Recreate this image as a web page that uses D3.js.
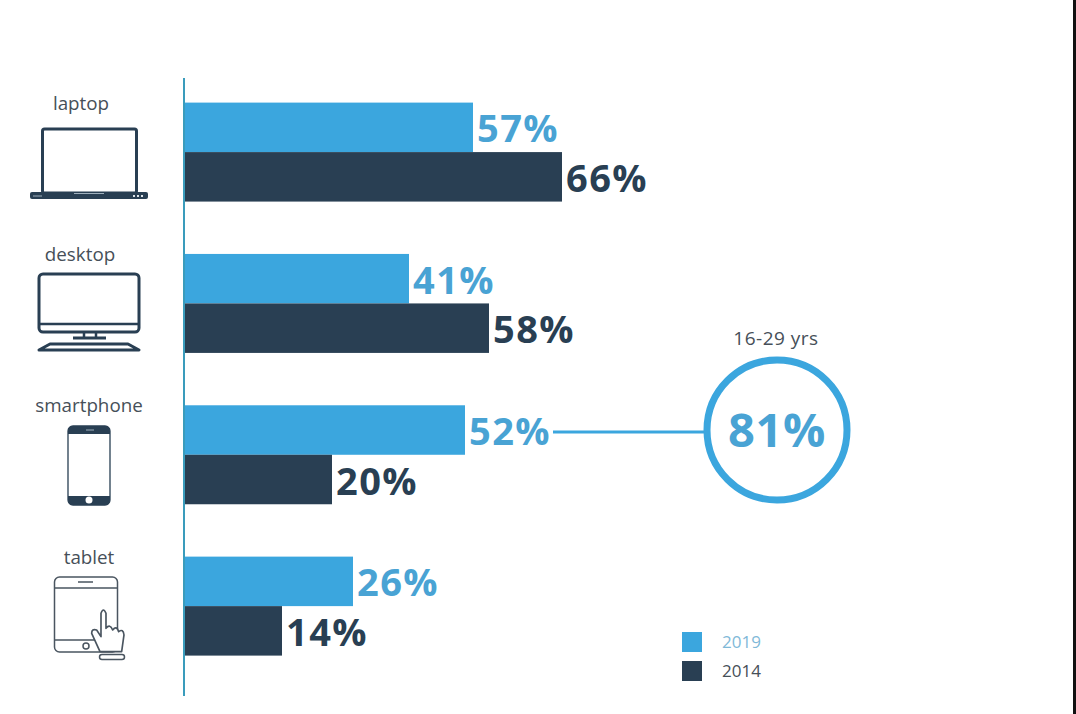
<!DOCTYPE html>
<html>
<head>
<meta charset="utf-8">
<script src="https://cdn.jsdelivr.net/npm/d3@7"></script>
<style>
  html, body { margin: 0; background: #fff; }
  text { font-family: "Open Sans", sans-serif; }
</style>
</head>
<body>
<div id="graph"></div>
<script>
let categories = ["laptop", "desktop", "smartphone", "tablet"];
let years = ["2019", "2014"];
let values2019 = [57, 41, 52, 26];
let values2014 = [66, 58, 20, 14];
let calloutCategory = "smartphone";
let calloutLabel = "16-29 yrs";
let calloutValue = 81;

// bars in the original are not proportional to their labels,
// so the scale has one stop per printed value
let stops = [0, 14, 20, 26, 41, 52, 57, 58, 66];
let stopLengths = [0, 98, 148, 169, 225, 281, 289, 305, 378];

let blue = "#3ba6de", dark = "#293f53", labelBlue = "#49a3d4", textGrey = "#464f58";
let colour = d3.scaleOrdinal().domain(years).range([blue, dark]);
let labelColour = d3.scaleOrdinal().domain(years).range([labelBlue, dark]);
let legendColour = d3.scaleOrdinal().domain(years).range(["#7fb9d8", textGrey]);

let width = 1076, height = 714;
let left = 184;

let svg = d3.select("#graph").append("svg")
  .attr("width", width)
  .attr("height", height)
  .style("display", "block");

// black edge of the screenshot
svg.append("rect").attr("x", 1073).attr("y", 0).attr("width", 3).attr("height", height).attr("fill", "#111");

let x = d3.scaleLinear().domain(stops).range(stopLengths.map(d => left + d));
let y = d3.scaleBand().domain(categories).range([102.6, 655.6]).paddingInner(0.346);
let y1 = d3.scaleBand().domain(years).range([0, y.bandwidth()]);

let rows = categories.map((c, i) => ({
  category: c,
  series: [
    {year: years[0], value: values2019[i]},
    {year: years[1], value: values2014[i]}
  ]
}));

let row = svg.selectAll("g.row").data(rows).enter().append("g")
  .attr("class", "row")
  .attr("transform", d => "translate(0," + y(d.category) + ")");

row.selectAll("rect").data(d => d.series).enter().append("rect")
  .attr("x", x(0))
  .attr("y", d => y1(d.year))
  .attr("width", d => x(d.value) - x(0))
  .attr("height", y1.bandwidth())
  .attr("fill", d => colour(d.year));

row.selectAll("text").data(d => d.series).enter().append("text")
  .attr("x", d => x(d.value) + 4)
  .attr("y", d => y1(d.year) + y1.bandwidth() / 2 + 15)
  .attr("font-size", 38)
  .attr("font-weight", 700)
  .attr("letter-spacing", 1.4)
  .attr("fill", d => labelColour(d.year))
  .text(d => d.value + "%");

// axis line
svg.append("line")
  .attr("x1", left).attr("x2", left)
  .attr("y1", 78).attr("y2", 696)
  .attr("stroke", "#3a9cbc").attr("stroke-width", 2);

// category names
let nameX = {laptop: 81, desktop: 80, smartphone: 89, tablet: 89};
svg.selectAll("text.name").data(categories).enter().append("text")
  .attr("class", "name")
  .attr("x", d => nameX[d])
  .attr("y", d => y(d) + 7)
  .attr("text-anchor", "middle")
  .attr("font-size", 18.8)
  .attr("fill", textGrey)
  .text(d => d);

// icons
let icon = () => svg.append("g").attr("fill", "none").attr("stroke", dark).attr("stroke-linejoin", "round");

let laptop = icon();
laptop.append("rect").attr("x", 42.5).attr("y", 129).attr("width", 94).attr("height", 64).attr("rx", 2).attr("stroke-width", 3);
laptop.append("rect").attr("x", 30).attr("y", 192).attr("width", 118).attr("height", 7).attr("rx", 2).attr("fill", dark).attr("stroke", "none");
laptop.append("line").attr("x1", 74).attr("x2", 104).attr("y1", 193.5).attr("y2", 193.5).attr("stroke", "#9fb0bd").attr("stroke-width", 1);
laptop.append("line").attr("x1", 33).attr("x2", 42).attr("y1", 196).attr("y2", 196).attr("stroke", "#9fb0bd").attr("stroke-width", 1);
laptop.append("line").attr("x1", 133).attr("x2", 144).attr("y1", 196).attr("y2", 196).attr("stroke", "#dfe5ea").attr("stroke-width", 2).attr("stroke-dasharray", "2 2");

let desktop = icon();
desktop.append("rect").attr("x", 39).attr("y", 274).attr("width", 100).attr("height", 58).attr("rx", 4).attr("stroke-width", 3);
desktop.append("line").attr("x1", 39).attr("x2", 139).attr("y1", 324).attr("y2", 324).attr("stroke-width", 2.5);
desktop.append("path").attr("d", "M84 332V337M96 332V337").attr("stroke-width", 2.5);
desktop.append("line").attr("x1", 73).attr("x2", 106).attr("y1", 338).attr("y2", 338).attr("stroke-width", 3);
desktop.append("path").attr("d", "M39 350L50 344H128L139 350Z").attr("stroke-width", 3);

let phone = icon();
phone.append("rect").attr("x", 68).attr("y", 426).attr("width", 42).attr("height", 79).attr("rx", 5).attr("stroke-width", 1.3);
phone.append("path").attr("d", "M68 434V431Q68 426 73 426H105Q110 426 110 431V434Z").attr("fill", dark).attr("stroke", "none");
phone.append("path").attr("d", "M68 496V500Q68 505 73 505H105Q110 505 110 500V496Z").attr("fill", dark).attr("stroke", "none");
phone.append("circle").attr("cx", 89).attr("cy", 500).attr("r", 3.5).attr("fill", "#fff").attr("stroke", "none");
phone.append("line").attr("x1", 86).attr("x2", 94).attr("y1", 430).attr("y2", 430).attr("stroke", "#9fb0bd").attr("stroke-width", 1);

let tablet = icon().attr("stroke", "#4a5560");
tablet.append("rect").attr("x", 54.5).attr("y", 577).attr("width", 63).attr("height", 75).attr("rx", 5).attr("stroke-width", 1.5);
tablet.append("path").attr("d", "M55 588H117M55 640H117M78 582H93").attr("stroke-width", 1.5);
tablet.append("circle").attr("cx", 86).attr("cy", 646).attr("r", 3).attr("stroke-width", 1.5);
// hand, traced in the crop's coordinates
tablet.append("g")
  .attr("transform", "translate(20,380) scale(0.3333)")
  .append("path")
  .attr("d", "M240 815L215 760Q215 745 230 750L243 770V700Q250 680 258 700V745Q270 730 278 750Q290 735 296 755Q310 745 312 765L305 815Z")
  .attr("fill", "#fff")
  .attr("stroke-width", 5);
tablet.append("rect").attr("x", 99.5).attr("y", 654.5).attr("width", 25).attr("height", 5).attr("rx", 2.5).attr("fill", "#fff").attr("stroke-width", 1.5);

// callout
let calloutY = y(calloutCategory) + y1("2019") + y1.bandwidth() / 2 + 2;
svg.append("line")
  .attr("x1", x(values2019[categories.indexOf(calloutCategory)]) + 88)
  .attr("x2", 705)
  .attr("y1", calloutY).attr("y2", calloutY)
  .attr("stroke", blue).attr("stroke-width", 3);
svg.append("circle")
  .attr("cx", 777).attr("cy", 430).attr("r", 70)
  .attr("fill", "#fff")
  .attr("stroke", blue).attr("stroke-width", 7);
svg.append("text")
  .attr("x", 777).attr("y", 447)
  .attr("text-anchor", "middle")
  .attr("font-size", 47)
  .attr("font-weight", 700)
  .attr("letter-spacing", 0.6)
  .attr("fill", labelBlue)
  .text(calloutValue + "%");
svg.append("text")
  .attr("x", 776).attr("y", 345)
  .attr("text-anchor", "middle")
  .attr("font-size", 19)
  .attr("letter-spacing", 0.5)
  .attr("fill", textGrey)
  .text(calloutLabel);

// legend
let legendY = d3.scalePoint().domain(years).range([632, 661]);
let legend = svg.selectAll("g.legend").data(years).enter().append("g")
  .attr("class", "legend")
  .attr("transform", d => "translate(682," + legendY(d) + ")");
legend.append("rect")
  .attr("width", 20).attr("height", 20)
  .attr("fill", d => colour(d));
legend.append("text")
  .attr("x", 40).attr("y", 16)
  .attr("font-size", 17)
  .attr("fill", d => legendColour(d))
  .text(d => d);
</script>
</body>
</html>
